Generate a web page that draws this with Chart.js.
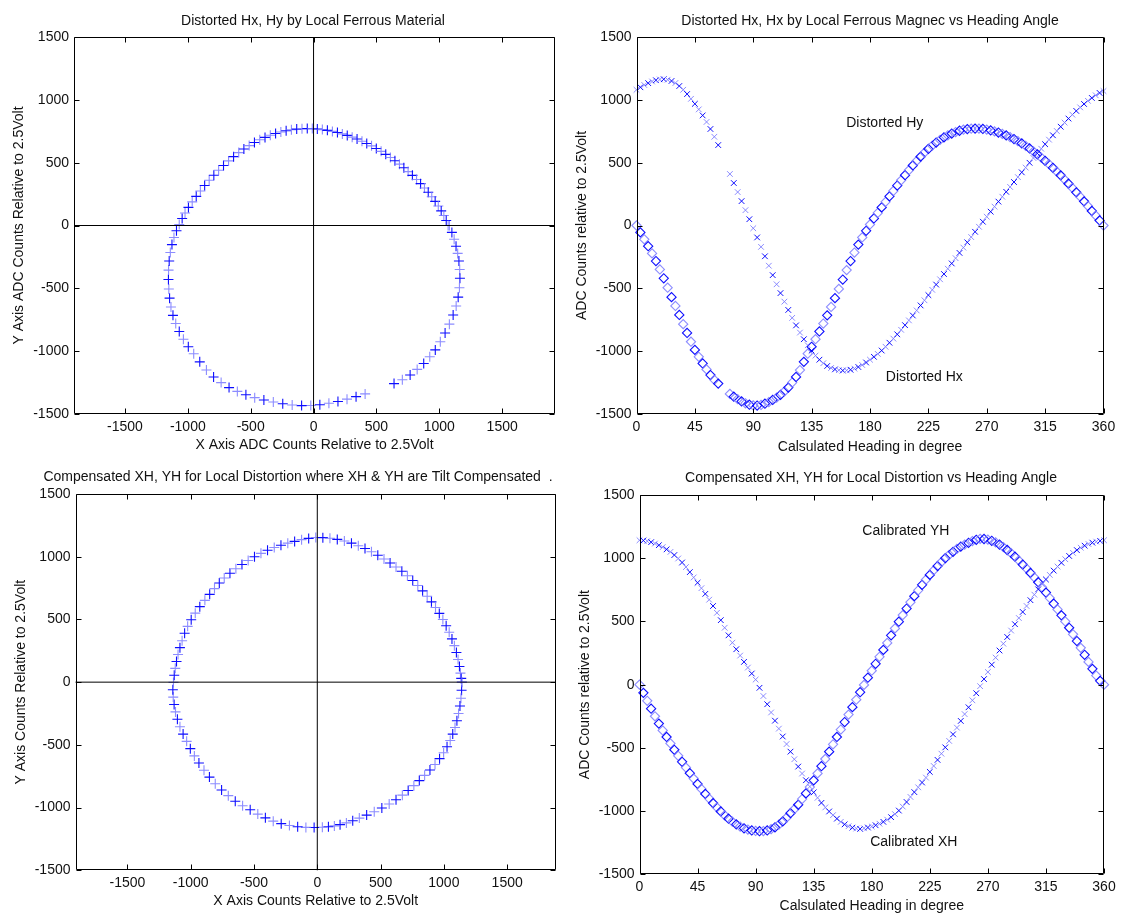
<!DOCTYPE html>
<html><head><meta charset="utf-8">
<script src="https://cdn.jsdelivr.net/npm/chart.js@4.4.0/dist/chart.umd.min.js"></script>
<style>
html,body{margin:0;padding:0;background:#fff;width:1124px;height:913px;overflow:hidden;}
canvas{position:absolute;}
</style></head><body>
<canvas id="c1" width="562" height="456" style="left:0;top:0"></canvas>
<canvas id="c2" width="562" height="456" style="left:562px;top:0"></canvas>
<canvas id="c3" width="562" height="457" style="left:0;top:456px"></canvas>
<canvas id="c4" width="562" height="457" style="left:562px;top:456px"></canvas>
<script>
// ---- data ----
const headingDistorted = [0,3,6,9,12,15,18,21,24,27,30,33,36,39,42,45,48,51,54,57,60,63,
72,75,78,81,84,87,90,93,96,99,102,105,108,111,114,117,120,123,126,129,132,135,138,141,144,147,150,
153,156,159,162,165,168,171,174,177,180,183,186,189,192,195,198,201,204,207,210,213,216,219,222,225,
228,231,234,237,240,243,246,249,252,255,258,261,264,267,270,273,276,279,282,285,288,291,294,297,300,
303,306,309,312,315,318,321,324,327,330,333,336,339,342,345,348,351,354,357,360];
const distortedHx = [1080,1100,1118,1133,1146,1156,1162,1164,1160,1150,1134,1110,1080,1046,1008,968,924,876,824,768,706,640,
410,338,266,194,122,50,-22,-95,-170,-245,-320,-395,-468,-538,-606,-672,-735,-795,-852,-905,-953,-996,-1035,-1068,-1096,-1118,-1134,
-1145,-1151,-1154,-1153,-1148,-1139,-1126,-1110,-1090,-1068,-1045,-1022,-995,-965,-933,-900,-866,-830,-793,-755,-716,-676,-636,-595,-554,
-512,-470,-428,-386,-344,-302,-260,-218,-176,-134,-92,-50,-10,30,70,110,150,190,229,268,307,346,385,423,461,
499,537,574,611,647,683,718,752,786,819,851,882,912,940,967,992,1015,1036,1055,1070];
const distortedHy = [0,-55,-110,-165,-222,-283,-350,-420,-495,-570,-640,-712,-785,-855,-925,-990,-1045,-1098,-1145,-1190,-1228,-1258,
-1340,-1362,-1382,-1400,-1415,-1426,-1432,-1433,-1428,-1418,-1405,-1388,-1370,-1347,-1320,-1290,-1250,-1205,-1150,-1085,-1020,-965,-905,-843,-780,-715,-648,
-578,-505,-430,-355,-283,-215,-152,-95,-42,8,56,100,144,188,232,275,318,360,400,440,478,514,548,580,609,
636,660,682,701,718,732,744,754,762,767,770,771,771,768,763,757,749,740,729,717,703,688,671,653,634,
613,590,566,541,515,488,459,429,399,366,333,299,264,229,192,155,116,79,40,0];

const headingCalibrated = [0,3,6,9,12,15,18,21,24,27,30,33,36,39,42,45,48,51,54,57,60,63,66,69,72,75,78,81,84,87,
90,93,96,99,102,105,108,111,114,117,120,123,126,129,132,135,138,141,144,147,150,153,156,159,162,165,168,171,174,177,
180,183,186,189,192,195,198,201,204,207,210,213,216,219,222,225,228,231,234,237,240,243,246,249,252,255,258,261,264,267,
270,273,276,279,282,285,288,291,294,297,300,303,306,309,312,315,318,321,324,327,330,333,336,339,342,345,348,351,354,357,360];
const calibratedXH = [1142,1140,1135,1127,1116,1103,1088,1070,1050,1025,998,966,930,890,848,806,763,718,672,622,568,510,450,390,332,280,230,180,135,88,
40,-25,-90,-155,-220,-285,-348,-410,-470,-530,-590,-648,-703,-756,-806,-852,-895,-935,-971,-1003,-1032,-1060,-1085,-1105,-1120,-1131,-1138,-1141,-1136,-1130,
-1122,-1112,-1100,-1085,-1068,-1048,-1024,-996,-964,-928,-888,-850,-812,-774,-735,-690,-643,-595,-546,-496,-445,-393,-340,-287,-233,-179,-124,-68,-12,44,
100,158,214,270,324,377,428,478,527,575,622,668,712,754,794,832,868,902,934,964,992,1018,1042,1064,1083,1099,1112,1123,1131,1137,1142];
const calibratedYH = [0,-65,-128,-190,-250,-308,-362,-414,-465,-515,-563,-610,-656,-700,-743,-785,-825,-864,-901,-937,-971,-1003,-1033,-1060,-1084,-1105,-1122,-1136,-1146,-1153,
-1157,-1159,-1158,-1153,-1143,-1128,-1108,-1082,-1052,-1017,-985,-950,-905,-860,-810,-757,-702,-645,-588,-530,-472,-414,-355,-296,-237,-178,-119,-60,-2,55,
110,165,220,275,330,390,445,498,550,602,652,700,746,790,830,868,904,938,970,1000,1027,1051,1073,1092,1108,1122,1136,1146,1153,1152,
1147,1138,1125,1108,1088,1065,1040,1012,982,950,918,884,848,810,770,728,685,640,595,548,500,450,398,345,291,236,180,125,72,30,0];

const countTicks = [-1500,-1000,-500,0,500,1000,1500];
const headingTicks = [0,45,90,135,180,225,270,315,360];

// ---- helpers ----
const FONT = "'Liberation Sans', Arial, sans-serif";
const TXT = '#111';
const DARK = 'rgba(0,0,255,0.95)';
const LIGHT = 'rgba(120,120,255,0.85)';
const alt = c => (c.dataIndex % 2 ? DARK : LIGHT);

const matlabBox = {
  id: 'matlabBox',
  afterDatasetsDraw(chart, args, o) {
    const {ctx, chartArea: a, scales: {x, y}} = chart;
    ctx.save();
    ctx.strokeStyle = '#000';
    ctx.lineWidth = 1;
    const L = Math.round(a.left) + 0.5, R = Math.round(a.right) - 0.5;
    const T = Math.round(a.top) + 0.5, B = Math.round(a.bottom) - 0.5;
    ctx.beginPath();
    ctx.rect(L, T, R - L, B - T);
    const tl = 5;
    for (const t of o.xTicks) {
      const px = Math.round(x.getPixelForValue(t)) + 0.5;
      ctx.moveTo(px, B); ctx.lineTo(px, B - tl);
      ctx.moveTo(px, T); ctx.lineTo(px, T + tl);
    }
    for (const t of o.yTicks) {
      const py = Math.round(y.getPixelForValue(t)) + 0.5;
      ctx.moveTo(L, py); ctx.lineTo(L + tl, py);
      ctx.moveTo(R, py); ctx.lineTo(R - tl, py);
    }
    ctx.stroke();
    ctx.fillStyle = TXT;
    ctx.font = '14px ' + FONT;
    ctx.textBaseline = 'middle';
    ctx.textAlign = 'center';
    ctx.fillText(o.title, o.titleX, o.titleY);
    ctx.textAlign = 'left';
    for (const n of (o.notes || [])) {
      ctx.fillText(n.text, x.getPixelForValue(n.x), y.getPixelForValue(n.y));
    }
    ctx.restore();
  }
};

function makeChart(id, cfg) {
  const W = 562, H = cfg.H;
  const xs = {
    type: 'linear', min: cfg.xMin, max: cfg.xMax, position: 'bottom',
    grid: {display: false, drawTicks: false}, border: {display: false},
    afterBuildTicks: s => { s.ticks = cfg.xTicks.map(v => ({value: v})); },
    afterFit: s => { s.height = H - cfg.B; s.paddingLeft = 0; s.paddingRight = 0; },
    ticks: {autoSkip: false, maxRotation: 0, padding: cfg.xTickPad, color: TXT,
            font: {family: FONT, size: 14}, callback: v => String(v)},
    title: {display: true, text: cfg.xTitle, color: TXT, font: {family: FONT, size: 14},
            padding: {top: 0, bottom: cfg.xTitlePad}}
  };
  const ys = {
    type: 'linear', min: -1500, max: 1500, position: 'left',
    grid: {display: false, drawTicks: false}, border: {display: false},
    afterBuildTicks: s => { s.ticks = countTicks.map(v => ({value: v})); },
    afterFit: s => { s.width = cfg.L; s.paddingTop = 0; s.paddingBottom = 0; },
    ticks: {autoSkip: false, padding: 5, color: TXT, font: {family: FONT, size: 14}, callback: v => String(v)},
    title: {display: true, text: cfg.yTitle, color: TXT, font: {family: FONT, size: 14},
            padding: {top: cfg.yTitlePad, bottom: 0}}
  };
  return new Chart(document.getElementById(id), {
    type: 'scatter',
    data: {datasets: cfg.datasets},
    options: {
      responsive: false, animation: false, events: [],
      layout: {padding: {left: 0, top: cfg.T, right: W - cfg.R, bottom: 0}},
      scales: {x: xs, y: ys},
      plugins: {
        legend: {display: false}, tooltip: {enabled: false},
        matlabBox: {title: cfg.title, titleX: cfg.titleX, titleY: cfg.titleY,
                    xTicks: cfg.xTicks, yTicks: countTicks, notes: cfg.notes}
      }
    },
    plugins: [matlabBox]
  });
}

const plusStyle = {pointStyle: 'cross', pointRadius: 5, borderWidth: 1.1,
  borderColor: alt, backgroundColor: alt, showLine: false, clip: false};
const xStyle = {pointStyle: 'crossRot', pointRadius: 4, borderWidth: 1,
  borderColor: alt, backgroundColor: alt, showLine: false, clip: false};
const dStyle = {pointStyle: 'rectRot', pointRadius: 4.6, borderWidth: 1.1,
  borderColor: alt, backgroundColor: 'rgba(0,0,0,0)', showLine: false, clip: false};
function axisLines(xMin, xMax) {
  const st = {showLine: true, pointRadius: 0, borderColor: '#000', borderWidth: 1, clip: false};
  return [
    Object.assign({data: [{x: xMin, y: 0}, {x: xMax, y: 0}]}, st),
    Object.assign({data: [{x: 0, y: -1500}, {x: 0, y: 1500}]}, st)
  ];
}
const pairs = (xa, ya) => xa.map((v, i) => ({x: v, y: ya[i]}));

// Top-left
makeChart('c1', {
  H: 456, L: 74, R: 555, T: 37, B: 414, xMin: -1905, xMax: 1920, xTicks: countTicks,
  xTickPad: 4.5, xTitlePad: 2, yTitlePad: 10.6,
  xTitle: 'X Axis ADC Counts Relative to 2.5Volt', yTitle: 'Y Axis ADC Counts Relative to 2.5Volt',
  title: 'Distorted Hx, Hy by Local Ferrous Material', titleX: 313, titleY: 20.7,
  datasets: [...axisLines(-1905, 1920), Object.assign({data: pairs(distortedHx, distortedHy)}, plusStyle)]
});
// Top-right
makeChart('c2', {
  H: 456, L: 74.5, R: 541.5, T: 37, B: 414, xMin: 0, xMax: 360, xTicks: headingTicks,
  xTickPad: 4.5, xTitlePad: 0.5, yTitlePad: 11.8,
  xTitle: 'Calsulated Heading in degree', yTitle: 'ADC Counts relative to 2.5Volt',
  title: 'Distorted Hx, Hx by Local Ferrous Magnec vs Heading Angle', titleX: 308, titleY: 20.7,
  notes: [{text: 'Distorted Hy', x: 161.7, y: 816}, {text: 'Distorted Hx', x: 192.2, y: -1205}],
  datasets: [Object.assign({data: pairs(headingDistorted, distortedHx)}, xStyle),
             Object.assign({data: pairs(headingDistorted, distortedHy)}, dStyle)]
});
// Bottom-left
makeChart('c3', {
  H: 457, L: 75.5, R: 556.5, T: 38, B: 414.3, xMin: -1910, xMax: 1885, xTicks: countTicks,
  xTickPad: 4.5, xTitlePad: 3.2, yTitlePad: 13.2,
  xTitle: 'X Axis Counts Relative to 2.5Volt', yTitle: 'Y Axis Counts Relative to 2.5Volt',
  title: 'Compensated XH, YH for Local Distortion where XH & YH are Tilt Compensated  .', titleX: 298, titleY: 20.7,
  datasets: [...axisLines(-1910, 1885), Object.assign({data: pairs(calibratedXH, calibratedYH)}, plusStyle)]
});
// Bottom-right
makeChart('c4', {
  H: 457, L: 77.5, R: 542, T: 39, B: 418.3, xMin: 0, xMax: 360, xTicks: headingTicks,
  xTickPad: 4.5, xTitlePad: -1.4, yTitlePad: 15,
  xTitle: 'Calsulated Heading in degree', yTitle: 'ADC Counts relative to 2.5Volt',
  title: 'Compensated XH, YH for Local Distortion vs Heading Angle', titleX: 309, titleY: 22,
  notes: [{text: 'Calibrated YH', x: 172.7, y: 1215}, {text: 'Calibrated XH', x: 178.8, y: -1245}],
  datasets: [Object.assign({data: pairs(headingCalibrated, calibratedXH)}, xStyle),
             Object.assign({data: pairs(headingCalibrated, calibratedYH)}, dStyle)]
});
</script>
</body></html>
